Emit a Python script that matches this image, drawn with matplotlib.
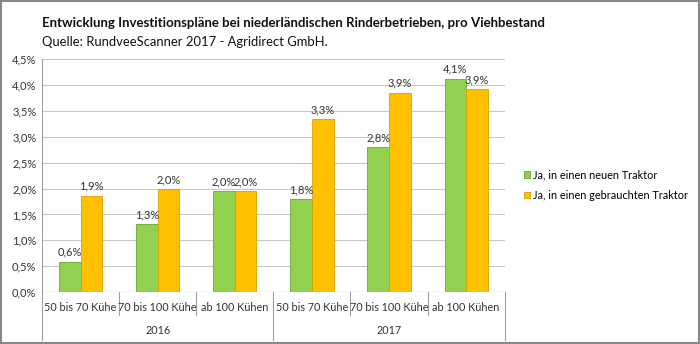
import numpy as np
import matplotlib.pyplot as plt
from matplotlib.patches import Rectangle

plt.rcParams['font.family'] = ['Lato', 'DejaVu Sans']

categories = ['50 bis 70 Kühe', '70 bis 100 Kühe', 'ab 100 Kühen',
              '50 bis 70 Kühe', '70 bis 100 Kühe', 'ab 100 Kühen']
years = ['2016', '2017']
neu = [0.59, 1.31, 1.95, 1.79, 2.80, 4.12]
gebraucht = [1.86, 1.99, 1.95, 3.34, 3.85, 3.92]
neu_labels = ['0,6%', '1,3%', '2,0%', '1,8%', '2,8%', '4,1%']
gebraucht_labels = ['1,9%', '2,0%', '2,0%', '3,3%', '3,9%', '3,9%']

fig = plt.figure(figsize=(7, 3.44), dpi=100)
ax = fig.add_axes([0.06, 0.151, 0.661, 0.677])

ind = np.arange(len(categories)) + 0.5
w = 0.28
ax.bar(ind - w / 2, neu, w, color='#92D050', edgecolor='#6FA52E', linewidth=0.6,
       label='Ja, in einen neuen Traktor', zorder=3)
ax.bar(ind + w / 2, gebraucht, w, color='#FFC000', edgecolor='#D9A300', linewidth=0.6,
       label='Ja, in einen gebrauchten Traktor', zorder=3)

for x, v, t in zip(ind - w / 2, neu, neu_labels):
    ax.text(x, v + 0.08, t, ha='center', va='bottom', fontsize=8, color='#333333')
for x, v, t in zip(ind + w / 2, gebraucht, gebraucht_labels):
    ax.text(x, v + 0.08, t, ha='center', va='bottom', fontsize=8, color='#333333')

ax.set_xlim(0, 6)
ax.set_ylim(0, 4.5)
ax.set_yticks(np.arange(0, 4.51, 0.5))
ax.set_yticklabels([('%.1f%%' % v).replace('.', ',') for v in np.arange(0, 4.51, 0.5)],
                   fontsize=8, color='#333333')
ax.set_xticks([])
ax.tick_params(axis='y', length=0, pad=4)
ax.grid(axis='y', color='#C8C8C8', linewidth=0.8, zorder=0)
for s in ['top', 'right', 'bottom']:
    ax.spines[s].set_visible(False)
ax.spines['left'].set_color('#A0A0A0')
ax.axhline(0, color='#A0A0A0', linewidth=0.8, zorder=4)

# category axis with two label rows
trans = ax.get_xaxis_transform()
for x, c in zip(ind, categories):
    ax.text(x, -0.066, c, transform=trans, ha='center', va='center', fontsize=7.8, color='#333333')
for i, y in enumerate(years):
    ax.text(1.5 + 3 * i, -0.163, y, transform=trans, ha='center', va='center', fontsize=7.8,
            color='#333333')
for x in range(7):
    low = -0.205 if x % 3 == 0 else -0.1
    ax.plot([x, x], [0, low], transform=trans, color='#A0A0A0', linewidth=0.8, clip_on=False)

ax.legend(loc='center left', bbox_to_anchor=(1.02, 0.46), frameon=False, fontsize=7.8,
          handlelength=0.6, handleheight=0.6, handletextpad=0.3, labelspacing=0.9)

fig.text(0.06, 0.933, 'Entwicklung Investitionspläne bei niederländischen Rinderbetrieben, pro Viehbestand',
         fontsize=9.5, fontweight='bold', color='#111111', va='center')
fig.text(0.06, 0.878, 'Quelle: RundveeScanner 2017 - Agridirect GmbH.',
         fontsize=9.4, color='#111111', va='center')

fig.patches.append(Rectangle((0.002, 0.003), 0.996, 0.994, transform=fig.transFigure,
                             fill=False, edgecolor='#888888', linewidth=1.5))

fig.savefig('out.png', dpi=100)
